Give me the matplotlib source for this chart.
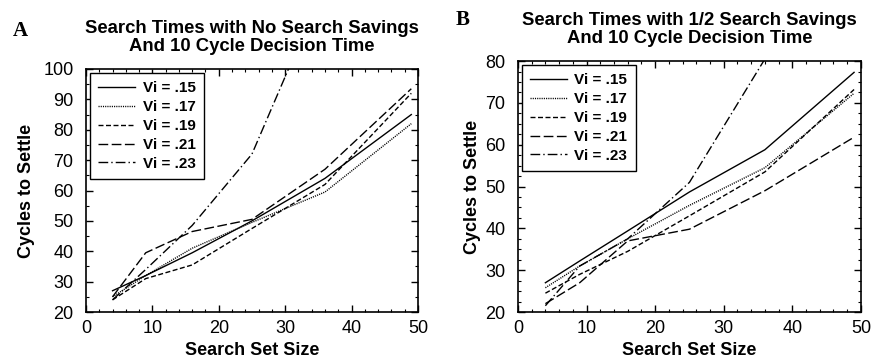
import matplotlib
matplotlib.use("Agg")
import matplotlib.pyplot as plt
from matplotlib.ticker import MultipleLocator

plt.rcParams['font.family'] = ['Liberation Sans', 'DejaVu Sans']

# ===========================
# Data
# ===========================
set_sizes = [4, 9, 16, 25, 36, 49]
vi_labels = ['Vi = .15', 'Vi = .17', 'Vi = .19', 'Vi = .21', 'Vi = .23']

# panel A: no search savings
no_sav_15 = [27.0, 32.0, 39.5, 50.0, 64.0, 85.0]
no_sav_17 = [25.0, 32.0, 41.0, 49.5, 59.5, 82.0]
no_sav_19 = [24.0, 31.0, 35.5, 47.5, 62.0, 92.0]
no_sav_21 = [25.0, 39.5, 46.5, 50.5, 67.0, 93.5]
no_sav_23 = [24.0, 34.0, 48.5, 72.0, 128.0, 190.0]

# panel B: 1/2 search savings
half_sav_15 = [27.0, 32.2, 39.4, 48.7, 58.8, 77.3]
half_sav_17 = [25.8, 31.0, 37.5, 45.5, 54.5, 72.3]
half_sav_19 = [24.5, 29.0, 34.5, 43.0, 53.5, 73.2]
half_sav_21 = [22.0, 27.0, 37.0, 39.8, 49.0, 61.8]
half_sav_23 = [21.5, 31.0, 37.5, 51.0, 80.5, 120.0]

styles = ['-', (0, (0.8, 0.8)), (0, (3.6, 1.8)), (0, (7, 2.5)), (0, (7, 2.2, 1, 2.2))]


def draw_panel(ax, series, ymax, yminor, title, ylabelpad):
    for vals, lab, ls in zip(series, vi_labels, styles):
        ax.plot(set_sizes, vals, color='black', linestyle=ls, linewidth=1.0, label=lab)
    ax.set_xlim(0, 50)
    ax.set_ylim(20, ymax)
    ax.xaxis.set_major_locator(MultipleLocator(10))
    ax.xaxis.set_minor_locator(MultipleLocator(2))
    ax.yaxis.set_major_locator(MultipleLocator(10))
    ax.yaxis.set_minor_locator(MultipleLocator(yminor))
    ax.tick_params(which='both', direction='in', top=True, right=True, labelsize=13)
    ax.tick_params(which='major', length=5, width=1)
    ax.tick_params(which='minor', length=2.5, width=0.8)
    ax.tick_params(axis='y', which='major', pad=9)
    ax.tick_params(axis='x', which='major', pad=6)
    for sp in ax.spines.values():
        sp.set_linewidth(1.2)
    ax.set_xlabel('Search Set Size', fontsize=13, fontweight='bold', labelpad=3)
    ax.set_ylabel('Cycles to Settle', fontsize=13, fontweight='bold', labelpad=ylabelpad)
    ax.set_title(title, fontsize=13.3, fontweight='bold', linespacing=1.05, pad=13)
    leg = ax.legend(loc='upper left', prop={'weight': 'bold', 'size': 11},
                    frameon=True, fancybox=False, framealpha=1, edgecolor='black',
                    handlelength=2.4, handletextpad=0.5, labelspacing=0.32,
                    borderpad=0.55, borderaxespad=0.25)
    leg.get_frame().set_linewidth(1.0)


fig = plt.figure(figsize=(8.72, 3.59), dpi=100)
ax1 = fig.add_axes([0.0986, 0.1309, 0.3807, 0.6769])
ax2 = fig.add_axes([0.594, 0.1309, 0.3933, 0.699])

draw_panel(ax1, [no_sav_15, no_sav_17, no_sav_19, no_sav_21, no_sav_23], 100, 5,
           'Search Times with No Search Savings\nAnd 10 Cycle Decision Time', 6)
draw_panel(ax2, [half_sav_15, half_sav_17, half_sav_19, half_sav_21, half_sav_23], 80, 2.5,
           'Search Times with 1/2 Search Savings\nAnd 10 Cycle Decision Time', 3)

fig.text(0.015, 0.9, 'A', fontsize=15, fontweight='bold', family='Liberation Serif',
         ha='left', va='baseline')
fig.text(0.523, 0.93, 'B', fontsize=15, fontweight='bold', family='Liberation Serif',
         ha='left', va='baseline')

fig.savefig('out.png', dpi=100)
